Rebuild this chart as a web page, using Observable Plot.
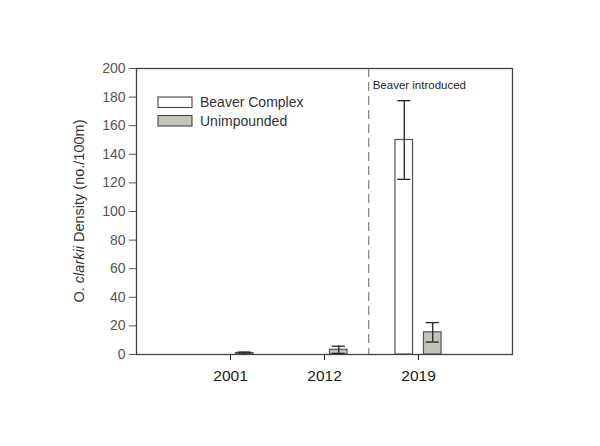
<!DOCTYPE html>
<html>
<head>
<meta charset="utf-8">
<script src="https://cdn.jsdelivr.net/npm/d3@7"></script>
<script src="https://cdn.jsdelivr.net/npm/@observablehq/plot@0.6"></script>
<style>
  html, body { margin: 0; padding: 0; background: #fff; }
  #chart { width: 600px; height: 446px; }
  svg { font-family: "Liberation Sans", Arial, sans-serif; }
</style>
</head>
<body>
<div id="chart"></div>
<script>
// ---- data ----
const years = ["2001", "2012", "2019"];
const seriesNames = ["Beaver Complex", "Unimpounded"];
const beaverMean = [0, 0, 150];
const beaverErr = [0, 0, 27.5];
const unimpMean = [1.0, 3.3, 15.5];
const unimpErr = [0.7, 2.5, 6.8];
const yTicks = [0, 20, 40, 60, 80, 100, 120, 140, 160, 180, 200];
const introducedAt = 2.47; // position between 2012 and 2019 on the category axis
const introducedLabel = "Beaver introduced";

// ---- build table ----
const rows = [];
years.forEach((yr, i) => {
  rows.push({year: yr, idx: i + 1, series: seriesNames[0], side: -1, value: beaverMean[i], err: beaverErr[i]});
  rows.push({year: yr, idx: i + 1, series: seriesNames[1], side: 1, value: unimpMean[i], err: unimpErr[i]});
});
const shown = rows.filter(d => d.value > 0);

const fills = {[seriesNames[0]]: "#ffffff", [seriesNames[1]]: "#c3c3bb"};
const inner = 0.058, outer = 0.245, cap = 0.07;
const x1 = d => d.idx + (d.side < 0 ? -outer : inner);
const x2 = d => d.idx + (d.side < 0 ? -inner : outer);
const xc = d => (x1(d) + x2(d)) / 2;

const chart = Plot.plot({
  width: 600,
  height: 446,
  marginLeft: 136,
  marginRight: 88,
  marginTop: 68,
  marginBottom: 92,
  style: {fontFamily: "Liberation Sans, Arial, sans-serif", background: "#fff"},
  x: {domain: [0, 4], ticks: [1, 2, 3], tickFormat: d => years[d - 1], label: null},
  y: {domain: [0, 200], ticks: yTicks, label: null},
  marks: [
    Plot.ruleX([introducedAt], {stroke: "#8a8a8a", strokeWidth: 1.3, strokeDasharray: "9,5"}),
    Plot.text([introducedLabel], {x: introducedAt, y: 188.5, text: d => d, textAnchor: "start", dx: 4, fontSize: 11.5, fill: "#222"}),
    Plot.rect(shown, {x1, x2, y1: 0, y2: "value", fill: d => fills[d.series], stroke: "#555", strokeWidth: 1.2}),
    Plot.ruleX(shown, {x: xc, y1: d => d.value - d.err, y2: d => d.value + d.err, stroke: "#222", strokeWidth: 1.3}),
    Plot.ruleY(shown, {y: d => d.value + d.err, x1: d => xc(d) - cap, x2: d => xc(d) + cap, stroke: "#222", strokeWidth: 1.3}),
    Plot.ruleY(shown, {y: d => d.value - d.err, x1: d => xc(d) - cap, x2: d => xc(d) + cap, stroke: "#222", strokeWidth: 1.3}),
    Plot.axisX({ticks: [1, 2, 3], tickFormat: d => years[d - 1], tickSize: 6, tickPadding: 9, fontSize: 15.5, fontWeight: 500, color: "#1a1a1a", label: null}),
    Plot.axisY({ticks: yTicks, tickSize: 7, tickPadding: 4, fontSize: 14, color: "#555", label: null}),
    Plot.frame({stroke: "#444", strokeWidth: 1.3})
  ]
});
document.getElementById("chart").appendChild(chart);

// y-axis title with italic species name
const svg = d3.select(chart);
const ttl = svg.append("text")
  .attr("transform", "translate(84,211) rotate(-90)")
  .attr("text-anchor", "middle")
  .attr("font-size", 14.5)
  .attr("fill", "#333");
ttl.append("tspan").text("O. ");
ttl.append("tspan").attr("font-style", "italic").text("clarkii");
ttl.append("tspan").text(" Density (no./100m)");

// legend inside the plot area
const lg = svg.append("g").attr("text-anchor", "start");
seriesNames.forEach((name, i) => {
  const y0 = 97 + i * 18.5;
  lg.append("rect").attr("x", 158).attr("y", y0).attr("width", 34).attr("height", 10.5)
    .attr("fill", fills[name]).attr("stroke", "#444").attr("stroke-width", 1.1);
  lg.append("text").attr("x", 200).attr("y", y0 + 10).attr("text-anchor", "start")
    .attr("font-size", 14).attr("fill", "#333").text(name);
});
</script>
</body>
</html>
